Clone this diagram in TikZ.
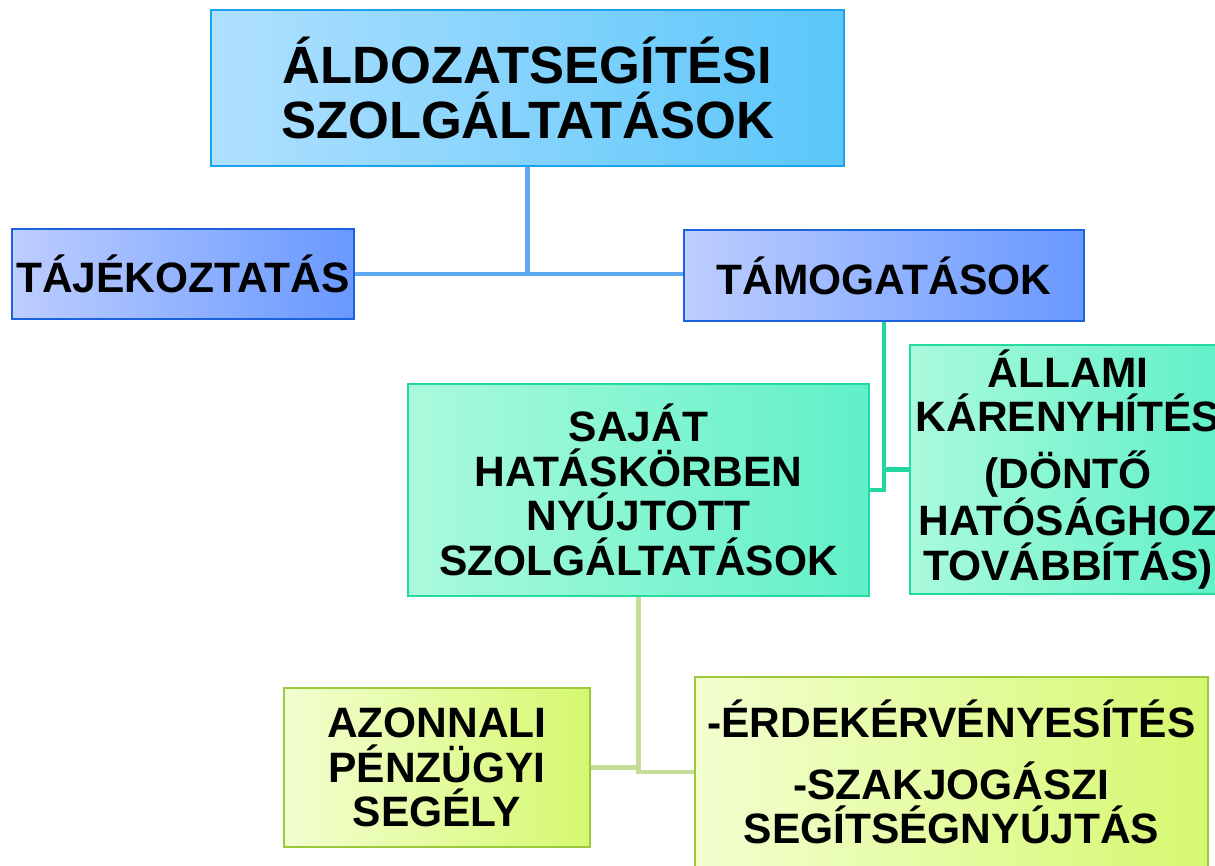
\documentclass[tikz,border=0pt]{standalone}
\usepackage{fontspec}
\setmainfont{Liberation Sans}
\definecolor{topL}{RGB}{176,224,255}
\definecolor{topR}{RGB}{90,198,250}
\definecolor{topB}{RGB}{30,160,235}
\definecolor{blL}{RGB}{190,206,255}
\definecolor{blR}{RGB}{104,152,255}
\definecolor{blB}{RGB}{28,98,220}
\definecolor{grL}{RGB}{170,250,220}
\definecolor{grR}{RGB}{96,240,200}
\definecolor{grB}{RGB}{36,218,160}
\definecolor{yeL}{RGB}{242,255,208}
\definecolor{yeR}{RGB}{214,248,112}
\definecolor{yeB}{RGB}{156,200,60}
\definecolor{lnTop}{RGB}{92,170,240}
\definecolor{lnMid}{RGB}{36,214,160}
\definecolor{lnBot}{RGB}{200,220,154}
\begin{document}
\begin{tikzpicture}[x=1pt,y=-1pt,
  box/.style={rectangle, draw, line width=2.5pt, inner sep=0pt, align=center,
    font=\bfseries\fontsize{42.5}{44.5}\selectfont},
  topbox/.style={box, draw=topB, left color=topL, right color=topR,
    font=\bfseries\fontsize{52.5}{55}\selectfont},
  bluebox/.style={box, draw=blB, left color=blL, right color=blR},
  greenbox/.style={box, draw=grB, left color=grL, right color=grR},
  yellowbox/.style={box, draw=yeB, left color=yeL, right color=yeR},
  conn/.style={line width=4.5pt}]
\useasboundingbox (0,0) rectangle (1215,865);
\clip (0,0) rectangle (1215,865);

\node[topbox, minimum width=633pt, minimum height=156pt] (top) at (527.5,88)
  {ÁLDOZATSEGÍTÉSI\\SZOLGÁLTATÁSOK};
\node[bluebox, minimum width=342pt, minimum height=90pt] (taj) at (183,274)
  {TÁJÉKOZTATÁS};
\node[bluebox, minimum width=400pt, minimum height=91pt] (tam) at (884,275.5)
  {TÁMOGATÁSOK};
\node[greenbox, minimum width=461pt, minimum height=212pt] (saj) at (638.5,490)
  {SAJÁT\\HATÁSKÖRBEN\\NYÚJTOTT\\SZOLGÁLTATÁSOK};
\node[greenbox, minimum width=316pt, minimum height=249pt] (all) at (1068,469.5)
  {ÁLLAMI\\KÁRENYHÍTÉS\\[12pt](DÖNTŐ\\HATÓSÁGHOZ\\TOVÁBBÍTÁS)};
\node[yellowbox, minimum width=306pt, minimum height=159pt] (azo) at (437,767.5)
  {AZONNALI\\PÉNZÜGYI\\SEGÉLY};
\node[yellowbox, minimum width=513pt, minimum height=190pt] (erd) at (951.5,772)
  {-ÉRDEKÉRVÉNYESÍTÉS\\[17pt]-SZAKJOGÁSZI\\SEGÍTSÉGNYÚJTÁS};

\draw[conn, lnTop] (top.south) -- (top.south |- taj.east);
\draw[conn, lnTop] (taj.east) -- (taj.east -| tam.west);
\draw[conn, lnMid] (tam.south) |- (all.west);
\draw[conn, lnMid] (tam.south) |- (saj.east);
\draw[conn, lnBot] (saj.south) |- (erd.west);
\draw[conn, lnBot] (azo.east) -- (azo.east -| saj.south);
\end{tikzpicture}
\end{document}
